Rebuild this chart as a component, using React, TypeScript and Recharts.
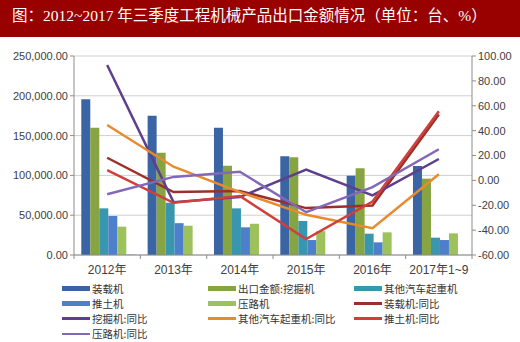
import React from 'react';
import { ComposedChart, Bar, Line, XAxis, YAxis, CartesianGrid, Legend } from 'recharts';

const years = ['2012年', '2013年', '2014年', '2015年', '2016年', '2017年1~9'];
const loader = [195600, 175000, 160000, 124000, 99600, 111800];
const excavator = [160000, 128500, 112000, 122700, 109000, 95900];
const crane = [58600, 65700, 58600, 42700, 26800, 21800];
const dozer = [49000, 40000, 34800, 18800, 15900, 18800];
const roller = [35600, 36800, 39300, 30000, 28500, 27200];
const other = [1200, 0, 0, 0, 0, 0];
const loaderYoY = [18.2, -9.4, -8.5, -22.3, -20.2, 52.9];
const excavatorYoY = [92.7, -17.5, -13.4, 8.7, -12.1, 17.2];
const craneYoY = [44.5, 11.0, -9.4, -27.7, -38.4, 5.0];
const dozerYoY = [8.2, -18.0, -12.6, -47.2, -17.0, 55.6];
const rollerYoY = [-11.2, 2.8, 6.9, -25.6, -5.4, 25.0];
const leftTicks = [0, 50000, 100000, 150000, 200000, 250000];
const rightTicks = [-60, -40, -20, 0, 20, 40, 60, 80, 100];

const data = years.map((y, i) => ({
  year: y,
  loader: loader[i],
  excavator: excavator[i],
  crane: crane[i],
  dozer: dozer[i],
  roller: roller[i],
  other: other[i],
  loaderYoY: loaderYoY[i],
  excavatorYoY: excavatorYoY[i],
  craneYoY: craneYoY[i],
  dozerYoY: dozerYoY[i],
  rollerYoY: rollerYoY[i],
}));

const barSeries = [
  { key: 'loader', name: '装载机', color: '#3a64a3' },
  { key: 'excavator', name: '出口金额:挖掘机', color: '#86a441' },
  { key: 'crane', name: '其他汽车起重机', color: '#3897ae' },
  { key: 'dozer', name: '推土机', color: '#4d7fcb' },
  { key: 'roller', name: '压路机', color: '#9dc25c' },
];
const lineSeries = [
  { key: 'loaderYoY', name: '装载机:同比', color: '#9b2f2c' },
  { key: 'excavatorYoY', name: '挖掘机:同比', color: '#5e3f8c' },
  { key: 'craneYoY', name: '其他汽车起重机:同比', color: '#e88a2e' },
  { key: 'dozerYoY', name: '推土机:同比', color: '#d13f3a' },
  { key: 'rollerYoY', name: '压路机:同比', color: '#8468b8' },
];

const W = 520;
const H = 342;
const LEFT_W = 74;
const RIGHT_W = 48;
const PLOT_W = W - LEFT_W - RIGHT_W;
const BAND = PLOT_W / years.length;
const FONT = '"Liberation Sans", Arial, "Noto Sans CJK SC", sans-serif';

const fmt2 = (v: number) =>
  v.toLocaleString('en-US', { minimumFractionDigits: 2, maximumFractionDigits: 2 });

const XTick = (props: any) => {
  const { x, y, payload, index } = props;
  const left = x - BAND / 2;
  return (
    <g>
      <line x1={left} x2={left} y1={y - 8} y2={y - 4} stroke="#8c8c8c" />
      {index === years.length - 1 && (
        <line x1={x + BAND / 2} x2={x + BAND / 2} y1={y - 8} y2={y - 4} stroke="#8c8c8c" />
      )}
      <text x={x} y={y + 11} textAnchor="middle" fontSize={12} fill="#404040" fontFamily={FONT}>
        {payload.value}
      </text>
    </g>
  );
};

const legendItems = [
  ...barSeries.map((s) => ({ ...s, kind: 'bar' })),
  ...lineSeries.map((s) => ({ ...s, kind: 'line' })),
];
const colX = [62, 208, 354];
const LEG_TOP = 281;
const ROW_H = 15.3;
const FIRST_ROW = 288 - LEG_TOP;

const LegendContent = () => (
  <div style={{ position: 'relative', width: W, height: 60, fontFamily: '"Noto Sans CJK SC", sans-serif' }}>
    {legendItems.map((it, i) => {
      const c = i % 3;
      const r = Math.floor(i / 3);
      const cy = FIRST_ROW + r * ROW_H;
      return (
        <div
          key={it.key}
          style={{
            position: 'absolute',
            left: colX[c],
            top: cy - 7.5,
            height: 15,
            display: 'flex',
            alignItems: 'center',
            whiteSpace: 'nowrap',
          }}
        >
          <div
            style={{
              width: 28,
              height: it.kind === 'bar' ? 5 : 2.5,
              background: it.color,
              marginRight: 2,
            }}
          />
          <span style={{ fontSize: 10.5, color: '#333', lineHeight: '15px' }}>{it.name}</span>
        </div>
      );
    })}
  </div>
);

export default function App() {
  return (
    <div style={{ position: 'absolute', left: 0, top: 0, width: W, height: H, background: '#fff' }}>
      <div style={{ position: 'absolute', left: 0, top: 0 }}>
        <ComposedChart
          width={W}
          height={H}
          data={data}
          margin={{ top: 56, right: 0, bottom: 7, left: 0 }}
          barCategoryGap="11%"
          barGap={0}
        >
          <CartesianGrid yAxisId="left" vertical={false} stroke="#cfcfcf" />
          <XAxis
            dataKey="year"
            xAxisId={0}
            height={20}
            axisLine={{ stroke: '#8c8c8c' }}
            tickLine={false}
            tick={<XTick />}
            interval={0}
          />
          <YAxis
            yAxisId="left"
            width={LEFT_W}
            domain={[0, 250000]}
            ticks={leftTicks}
            tickFormatter={fmt2}
            axisLine={{ stroke: '#8c8c8c' }}
            tickLine={{ stroke: '#8c8c8c' }}
            tickSize={4}
            tick={{ fontSize: 11, fill: '#404040', fontFamily: FONT }}
            interval={0}
          />
          <YAxis
            yAxisId="right"
            orientation="right"
            width={RIGHT_W}
            domain={[-60, 100]}
            ticks={rightTicks}
            tickFormatter={fmt2}
            axisLine={{ stroke: '#8c8c8c' }}
            tickLine={{ stroke: '#8c8c8c' }}
            tickSize={4}
            tick={{ fontSize: 11, fill: '#404040', fontFamily: FONT }}
            interval={0}
          />
          {barSeries.map((s) => (
            <Bar
              key={s.key}
              yAxisId="left"
              dataKey={s.key}
              name={s.name}
              fill={s.color}
              isAnimationActive={false}
            />
          ))}
          <Bar yAxisId="left" dataKey="other" name="其他" fill="#b9c8dc" legendType="none" isAnimationActive={false} />
          {lineSeries.map((s) => (
            <Line
              key={s.key}
              yAxisId="right"
              dataKey={s.key}
              name={s.name}
              stroke={s.color}
              strokeWidth={2.5}
              dot={false}
              type="linear"
              isAnimationActive={false}
            />
          ))}
          <Legend
            content={<LegendContent />}
            wrapperStyle={{ position: 'absolute', left: 0, top: LEG_TOP, width: W, height: 60 }}
          />
        </ComposedChart>
      </div>
      <div
        style={{
          position: 'absolute',
          left: 0,
          top: 0,
          width: W,
          height: 37,
          background: '#990000',
          color: '#fff',
          fontSize: 15.5,
          lineHeight: '32px',
          paddingLeft: 12,
          boxSizing: 'border-box',
          whiteSpace: 'nowrap',
          fontFamily: '"Liberation Serif", "Noto Sans CJK SC", serif',
        }}
      >
        图：2012~2017 年三季度工程机械产品出口金额情况（单位：台、%）
      </div>
    </div>
  );
}
